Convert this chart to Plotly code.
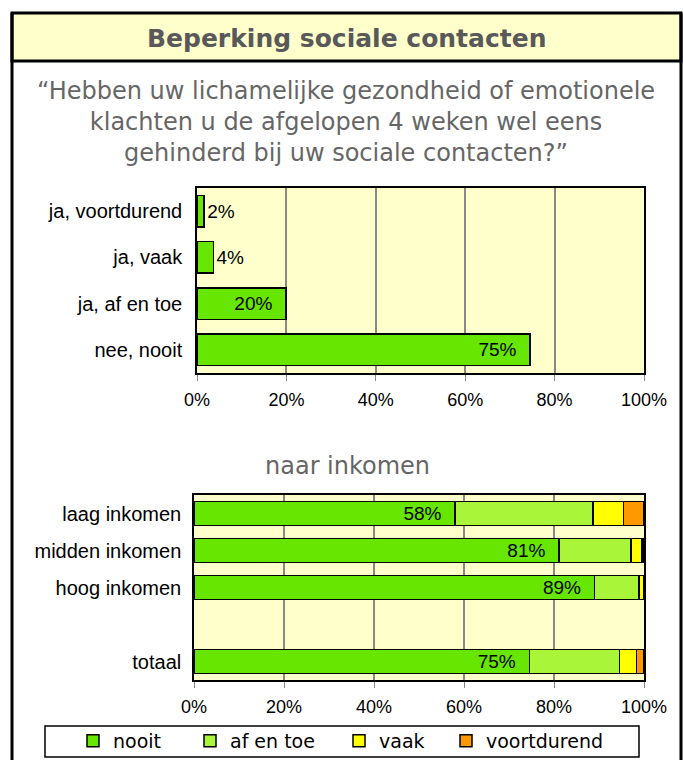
import plotly.graph_objects as go

# top chart: answer distribution (percent)
answers = ["ja, voortdurend", "ja, vaak", "ja, af en toe", "nee, nooit"]
answer_pct = [1.6, 3.7, 19.9, 74.5]

# bottom chart: by income (percent), blank slot between groups and total
groups = ["laag inkomen", "midden inkomen", "hoog inkomen", " ", "totaal"]
nooit = [58.0, 81.1, 89.0, None, 74.5]
af_en_toe = [30.7, 16.0, 9.9, None, 20.1]
vaak = [6.7, 2.4, 1.1, None, 3.7]
voortdurend = [4.6, 0.5, 0.0, None, 1.7]

series_names = ["nooit", "af en toe", "vaak", "voortdurend"]
series_colors = ["#66E600", "#A9F53A", "#FFFF00", "#FF9900"]

x_ticks = [0, 20, 40, 60, 80, 100]
x_ticktext = [f"{t}%" for t in x_ticks]

W, H = 683, 760
BG = "#FFFFCC"
GREY = "#595959"
NBSP = "\u00a0"

# left edge (px) of each legend entry, one legend per series
legend_ids = ["legend", "legend2", "legend3", "legend4"]
legend_left = [73, 190, 339, 446]


def px_x(p):
    return p / W


def px_y(p):
    return 1 - p / H


def pct(v):
    return f"{int(v + 0.5)}%"


fig = go.Figure()

top_pos = ["outside", "outside", "inside", "inside"]
fig.add_trace(
    go.Bar(
        y=answers,
        x=answer_pct,
        orientation="h",
        width=0.68,
        marker=dict(color=series_colors[0], line=dict(color="black", width=1.5)),
        text=[pct(v) if p == "outside" else (pct(v) + NBSP * 2)
              for v, p in zip(answer_pct, top_pos)],
        textposition=top_pos,
        insidetextanchor="end",
        constraintext="none",
        textfont=dict(family="Liberation Sans, Arial", size=19, color="black"),
        cliponaxis=False,
        showlegend=False,
        xaxis="x",
        yaxis="y",
    )
)

for name, vals, color, leg in zip(series_names, [nooit, af_en_toe, vaak, voortdurend],
                                  series_colors, legend_ids):
    fig.add_trace(
        go.Bar(
            y=groups,
            x=vals,
            name=name,
            legend=leg,
            orientation="h",
            width=0.66,
            marker=dict(color=color, line=dict(color="black", width=1.5)),
            text=[pct(v) + NBSP * 2 if (name == "nooit" and v is not None) else "" for v in vals],
            textposition="inside",
            insidetextanchor="end",
            constraintext="none",
            textfont=dict(family="Liberation Sans, Arial", size=19, color="black"),
            xaxis="x2",
            yaxis="y2",
        )
    )

xaxis_common = dict(
    range=[0, 100],
    tickvals=x_ticks,
    ticktext=x_ticktext,
    showgrid=True,
    gridcolor="#888888",
    gridwidth=1.5,
    showline=True,
    linecolor="black",
    linewidth=1.5,
    mirror=True,
    ticks="outside",
    tickcolor="#888888",
    ticklen=6,
    ticklabelstandoff=4,
    tickfont=dict(family="Liberation Sans, Arial", size=18, color="black"),
    zeroline=False,
    automargin=False,
    fixedrange=True,
)

yaxis_common = dict(
    type="category",
    autorange="reversed",
    showline=True,
    linecolor="black",
    linewidth=1.5,
    mirror=True,
    showgrid=False,
    ticks="",
    tickfont=dict(family="Liberation Sans, Arial", size=20, color="black"),
    automargin=False,
    fixedrange=True,
)

legend_style = dict(
    orientation="h",
    xanchor="left",
    y=px_y(741),
    yanchor="middle",
    borderwidth=0,
    bgcolor="rgba(0,0,0,0)",
    font=dict(family="DejaVu Sans, Verdana", size=19, color="black"),
    itemwidth=30,
)

fig.update_layout(
    width=W,
    height=H,
    margin=dict(l=0, r=0, t=0, b=0),
    paper_bgcolor="white",
    plot_bgcolor=BG,
    barmode="stack",
    xaxis=dict(domain=[px_x(197), px_x(644)], anchor="y", **xaxis_common),
    yaxis=dict(domain=[px_y(373), px_y(188)], anchor="x", categoryarray=answers,
               ticklabelstandoff=9, **yaxis_common),
    xaxis2=dict(domain=[px_x(194), px_x(644)], anchor="y2", **xaxis_common),
    yaxis2=dict(domain=[px_y(680), px_y(495)], anchor="x2", categoryarray=groups,
                ticklabelstandoff=7, **yaxis_common),
    shapes=[
        # title band
        dict(type="rect", xref="paper", yref="paper",
             x0=px_x(12), x1=px_x(681), y0=px_y(61), y1=px_y(13),
             fillcolor=BG, line=dict(color="black", width=3)),
        # outer frame
        dict(type="line", xref="paper", yref="paper",
             x0=px_x(12), x1=px_x(12), y0=px_y(13), y1=px_y(762),
             line=dict(color="black", width=3)),
        dict(type="line", xref="paper", yref="paper",
             x0=px_x(681), x1=px_x(681), y0=px_y(13), y1=px_y(762),
             line=dict(color="black", width=3)),
        # legend box
        dict(type="rect", xref="paper", yref="paper",
             x0=px_x(45), x1=px_x(639), y0=px_y(757), y1=px_y(726),
             line=dict(color="black", width=1.5), layer="below"),
    ],
    annotations=[
        dict(text="<b>Beperking sociale contacten</b>", xref="paper", yref="paper",
             x=px_x(346), y=px_y(38), xanchor="center", yanchor="middle", showarrow=False,
             font=dict(family="DejaVu Sans, Verdana", size=25, color=GREY)),
        dict(text="“Hebben uw lichamelijke gezondheid of emotionele<br>"
                  "klachten u de afgelopen 4 weken wel eens<br>"
                  "gehinderd bij uw sociale contacten?”",
             xref="paper", yref="paper", x=px_x(346), y=px_y(122),
             xanchor="center", yanchor="middle", showarrow=False, align="center",
             font=dict(family="DejaVu Sans, Verdana", size=24, color="#666666")),
        dict(text="naar inkomen", xref="paper", yref="paper",
             x=px_x(347), y=px_y(466), xanchor="center", yanchor="middle", showarrow=False,
             font=dict(family="DejaVu Sans, Verdana", size=24, color="#666666")),
    ],
)

for leg, left in zip(legend_ids, legend_left):
    fig.update_layout({leg: dict(x=px_x(left), **legend_style)})

fig.write_html(
    "out.html",
    config={"displayModeBar": False},
    post_script="document.body.style.margin='0';document.body.style.overflow='hidden';",
)
